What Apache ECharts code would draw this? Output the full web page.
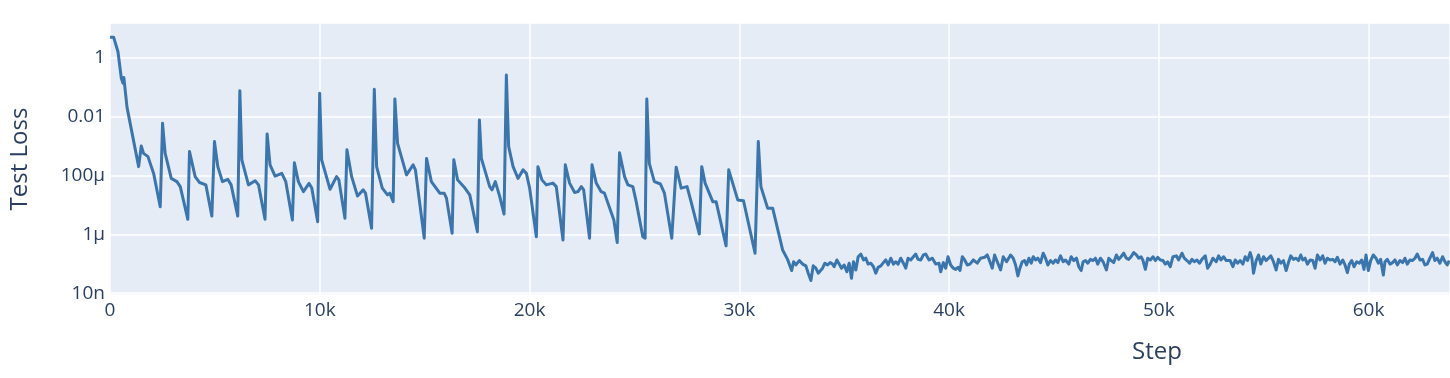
<!DOCTYPE html>
<html>
<head>
<meta charset="utf-8">
<script src="https://cdn.jsdelivr.net/npm/echarts@6/dist/echarts.min.js"></script>
<style>
  html, body { margin: 0; padding: 0; background: #fff; }
  #chart { width: 1450px; height: 378px; }
</style>
</head>
<body>
<div id="chart"></div>
<script>
// training step of each logged point
var steps = [
  0, 175, 380, 540, 620, 660, 810, 1365, 1490, 1600, 1810, 2080, 2395, 2505, 2630, 2920, 3190, 3350,
  3710, 3790, 4060, 4270, 4570, 4855, 4980, 5140, 5360, 5615, 5775, 6090, 6190, 6285, 6600, 6920,
  7080, 7390, 7490, 7630, 7870, 8190, 8380, 8695, 8790, 8980, 9220, 9490, 9620, 9900, 9995, 10090,
  10490, 10800, 10910, 11200, 11295, 11520, 11800, 12070, 12180, 12470, 12600, 12710, 12980, 13230,
  13340, 13500, 13580, 13710, 14135, 14450, 14560, 14980, 15090, 15320, 15720, 15930, 16040, 16310,
  16390, 16570, 16920, 17150, 17515, 17610, 17705, 18100, 18210, 18370, 18580, 18785, 18895, 19005,
  19215, 19450, 19690, 19850, 20005, 20325, 20400, 20590, 20800, 21115, 21275, 21595, 21705, 21910,
  22150, 22310, 22470, 22580, 22860, 22980, 23180, 23415, 23570, 24020, 24180, 24290, 24530, 24690,
  24925, 25085, 25400, 25510, 25590, 25710, 25950, 26240, 26430, 26780, 26990, 27230, 27510, 27700,
  28095, 28210, 28370, 28735, 28895, 29370, 29495, 29925, 30200, 30750, 30905, 31030, 31350, 31590,
  32065, 32300, 32495,
  32588, 32699, 32858, 33016, 33175, 33286, 33413, 33524, 33651, 33762, 33968, 34079, 34206, 34333,
  34444, 34523, 34650, 34761, 34872, 34999, 35126, 35237, 35348, 35443, 35555, 35666, 35793, 35920,
  36030, 36142, 36269, 36395, 36507, 36618, 36745, 36871, 36982, 37094, 37220, 37347, 37458, 37569,
  37696, 37823, 37934, 38045, 38172, 38299, 38410, 38521, 38648, 38775, 38886, 39045, 39204, 39362,
  39521, 39600, 39727, 39838, 39949, 40076, 40203, 40314, 40425, 40520, 40631, 40742, 40869, 40996,
  41155, 41345, 41504, 41694, 41821, 41948, 42059, 42170, 42297, 42456, 42583, 42741,
  42932, 43059, 43170, 43281, 43376, 43487, 43598, 43693, 43805, 43916, 44011, 44122, 44233, 44360,
  44487, 44598, 44709, 44836, 44963, 45074, 45185, 45312, 45439, 45550, 45708, 45819, 45946, 46073,
  46184, 46295, 46390, 46502, 46613, 46740, 46867, 46978, 47089, 47216, 47342, 47501, 47612, 47723,
  47850, 47977, 48088, 48199, 48326, 48453, 48564, 48675, 48802, 48929, 49040, 49151, 49246, 49357,
  49468, 49595, 49722, 49833, 49944, 50071, 50198, 50309, 50420, 50547, 50674, 50833, 50944, 51103,
  51213, 51340, 51467, 51578, 51689, 51816, 51943, 52054, 52213, 52324, 52451, 52578, 52737, 52848,
  52959, 53086, 53213,
  53403, 53530, 53641, 53752, 53879, 54006, 54117, 54228, 54355, 54434, 54514, 54640, 54752, 54863,
  54990, 55116, 55227, 55339, 55465, 55592, 55703, 55814, 55941, 56068, 56179, 56290, 56417, 56544,
  56655, 56766, 56861, 56972, 57084, 57211, 57337, 57449, 57560, 57687, 57813, 57924, 58035, 58162,
  58289, 58400, 58511, 58638, 58765, 58876, 58987, 59083, 59194, 59305, 59432, 59559, 59670, 59781,
  59876, 59987, 60098, 60225, 60352, 60463, 60574, 60701, 60780, 60891, 61018, 61145, 61256, 61367,
  61494, 61621, 61732, 61843, 61970, 62097, 62208, 62319, 62446, 62573, 62684, 62795, 62922, 63049,
  63160, 63271, 63398, 63525, 63636, 63747, 63843
];

// log10 of the test loss at each step
var logLoss = [
  0.69, 0.69, 0.20, -0.70, -0.87, -0.67, -1.68, -3.70, -3.00, -3.25, -3.36, -3.93, -5.06, -2.23, -3.25, -4.10, -4.21, -4.38,
  -5.49, -3.19, -4.04, -4.24, -4.32, -5.38, -2.85, -3.70, -4.21, -4.13, -4.32, -5.38, -1.12, -3.47, -4.32, -4.18,
  -4.32, -5.49, -2.59, -3.64, -4.02, -3.93, -4.21, -5.51, -3.57, -4.21, -4.55, -4.27, -4.43, -5.57, -1.21, -3.47,
  -4.47, -4.04, -4.15, -5.45, -3.13, -4.04, -4.70, -4.49, -4.60, -5.79, -1.07, -3.70, -4.43, -4.66,
  -4.60, -4.89, -1.40, -2.91, -3.98, -3.64, -3.81, -6.13, -3.42, -4.21, -4.60, -4.60, -4.77, -5.96,
  -3.47, -4.15, -4.43, -4.66, -5.91, -2.12, -3.42, -4.38, -4.49, -4.21, -4.72, -5.31, -0.59, -3.02,
  -3.70, -4.10, -3.81, -3.93, -4.43, -6.08, -3.70, -4.15, -4.32, -4.26, -4.38, -6.19, -3.64, -4.26,
  -4.58, -4.55, -4.38, -4.49, -6.13, -3.64, -4.26, -4.55, -4.60, -5.51, -6.28, -3.23, -4.04, -4.32,
  -4.38, -4.89, -6.08, -6.13, -1.40, -3.59, -4.21, -4.29, -4.60, -6.13, -3.72, -4.43, -4.38, -4.89,
  -5.99, -3.70, -4.26, -4.89, -4.89, -6.39, -3.81, -4.83, -4.86, -6.64, -2.85, -4.38, -5.11, -5.11,
  -6.53, -6.85, -7.23,
  -6.93, -7.04, -6.89, -7.01, -7.07, -7.32, -7.57, -7.07, -7.15, -7.32, -7.15, -6.98, -7.04, -6.96,
  -7.01, -7.10, -6.87, -7.01, -7.15, -7.04, -7.27, -6.98, -7.49, -6.93, -7.21, -6.76, -6.67, -6.87,
  -6.81, -7.01, -6.98, -7.10, -7.32, -7.12, -7.07, -6.96, -6.87, -7.04, -6.81, -7.01, -6.93, -7.01,
  -6.81, -6.98, -7.15, -6.81, -6.87, -6.76, -6.67, -6.85, -6.87, -6.70, -6.67, -6.87, -6.81, -7.01,
  -6.98, -7.27, -6.96, -7.15, -6.76, -7.04, -7.15, -7.19, -7.12, -7.23, -6.76, -6.87, -7.04, -7.01,
  -6.87, -6.98, -6.81, -6.78, -6.70, -6.93, -7.15, -6.70, -6.93, -7.21, -6.76, -6.93,
  -6.70, -6.81, -7.04, -7.41, -7.15, -6.93, -6.89, -7.04, -6.81, -6.98, -6.76, -6.87, -6.81, -6.96,
  -6.64, -6.81, -7.04, -6.89, -6.98, -6.87, -6.96, -6.73, -6.93, -6.87, -7.01, -6.76, -6.89, -6.81,
  -7.10, -7.23, -6.93, -6.89, -6.98, -6.85, -6.89, -6.81, -7.01, -6.81, -6.93, -7.21, -6.81, -6.89,
  -6.96, -6.70, -6.85, -6.76, -6.64, -6.81, -6.85, -6.76, -6.62, -6.70, -6.81, -6.76, -6.89, -7.19,
  -6.81, -6.87, -6.76, -6.89, -6.78, -6.87, -6.89, -7.01, -6.93, -7.10, -6.76, -6.73, -6.87, -6.64,
  -6.81, -6.89, -6.98, -6.85, -6.93, -6.87, -6.98, -6.85, -6.73, -7.15, -7.01, -6.81, -6.93, -6.73,
  -6.87, -6.76, -6.89,
  -6.89, -7.10, -6.87, -6.98, -6.89, -7.01, -6.76, -6.89, -6.62, -6.81, -7.32, -6.89, -6.70, -7.01,
  -6.76, -6.89, -6.81, -6.73, -6.93, -7.21, -6.85, -6.98, -6.89, -7.23, -6.96, -6.73, -6.85, -6.81,
  -6.89, -6.70, -6.87, -6.81, -7.01, -6.87, -6.89, -7.15, -6.70, -6.87, -6.73, -6.98, -6.81, -6.87,
  -6.85, -6.93, -6.78, -7.01, -6.87, -7.04, -7.30, -7.01, -6.89, -7.10, -6.93, -6.98, -6.87, -7.19,
  -6.70, -7.23, -6.89, -6.70, -6.81, -6.98, -6.85, -7.38, -6.93, -6.85, -7.01, -6.96, -6.87, -7.04,
  -6.89, -6.96, -6.81, -7.01, -6.87, -6.89, -6.81, -6.67, -6.87, -6.85, -7.04, -7.01, -6.81, -6.62,
  -6.89, -6.81, -6.98, -6.76, -6.93, -7.04, -6.89
];

var xTicks = [0, 10000, 20000, 30000, 40000, 50000, 60000];
var xTickLabels = ['0', '10k', '20k', '30k', '40k', '50k', '60k'];
var yTicks = [-8, -6, -4, -2, 0];          // powers of ten shown on the axis
var yTickLabels = ['10n', '1μ', '100μ', '0.01', '1'];

var textColor = '#2a3f5f';
var fontName = '"Open Sans", "Noto Sans", sans-serif';

var lineData = steps.map(function (s, i) {
  return [s, Math.pow(10, logLoss[i])];
});

var myChart = echarts.init(document.getElementById('chart'), null, { renderer: 'canvas' });

var option = {
  animation: false,
  backgroundColor: '#ffffff',
  grid: {
    left: 108,
    top: 23,
    width: 1342,
    height: 272,
    show: true,
    backgroundColor: '#e5ecf6',
    borderWidth: 0
  },
  xAxis: {
    type: 'value',
    min: 0,
    max: 63880,
    interval: 10000,
    axisLine: { show: false },
    axisTick: { show: false },
    splitLine: { show: true, lineStyle: { color: '#ffffff', width: 1.5 } },
    axisLabel: {
      color: textColor,
      fontFamily: fontName,
      fontSize: 19,
      margin: 6,
      showMaxLabel: false,
      formatter: function (v) {
        var i = xTicks.indexOf(v);
        return i >= 0 ? xTickLabels[i] : '';
      }
    }
  },
  yAxis: {
    type: 'log',
    logBase: 100,
    min: Math.pow(10, -8.06),
    max: Math.pow(10, 1.178),
    axisLine: { show: false },
    axisTick: { show: false },
    splitLine: { show: true, lineStyle: { color: '#ffffff', width: 1.5 } },
    name: 'Test Loss',
    nameLocation: 'middle',
    nameRotate: 90,
    nameGap: 78,
    nameTextStyle: { color: textColor, fontFamily: fontName, fontSize: 24 },
    axisLabel: {
      color: textColor,
      fontFamily: fontName,
      fontSize: 19,
      margin: 5,
      showMinLabel: false,
      showMaxLabel: false,
      formatter: function (v) {
        var e = Math.round(Math.log10(v));
        if (Math.abs(Math.log10(v) - e) > 0.01) return '';
        var i = yTicks.indexOf(e);
        return i >= 0 ? yTickLabels[i] : '';
      }
    }
  },
  graphic: [
    {
      type: 'text',
      x: 1157,
      y: 352,
      style: {
        text: 'Step',
        fill: textColor,
        align: 'center',
        verticalAlign: 'middle',
        font: '24px "Open Sans", "Noto Sans", sans-serif'
      }
    }
  ],
  series: [
    {
      type: 'line',
      data: lineData,
      showSymbol: false,
      clip: true,
      lineStyle: { color: '#3a75ae', width: 3, join: 'round' }
    }
  ]
};

myChart.setOption(option);
</script>
</body>
</html>
